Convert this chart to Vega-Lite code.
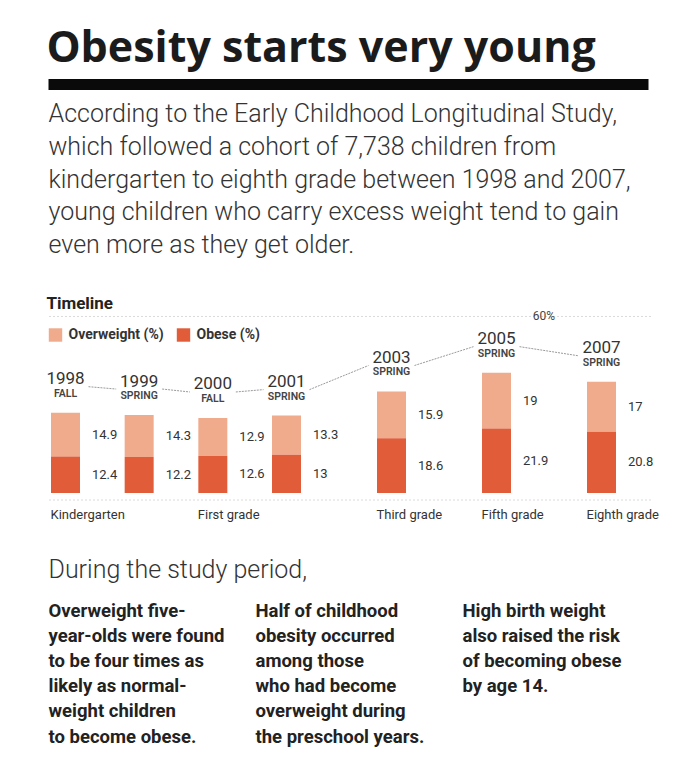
{
  "$schema": "https://vega.github.io/schema/vega-lite/v6.json",
  "background": "white",
  "padding": {"left": 45.5, "top": 28, "right": 10, "bottom": 10},
  "config": {"font": "Roboto", "view": {"stroke": null}},
  "title": {"text": "Obesity starts very young", "anchor": "start", "font": "Open Sans", "fontSize": 43, "fontWeight": "bold", "color": "#1b1b1b", "offset": 8},
  "spacing": 36,
  "resolve": {"scale": {"color": "independent"}, "legend": {"color": "independent"}},
  "vconcat": [
    {
      "width": 600,
      "height": 11,
      "data": {"values": [{"element": "rule"}]},
      "mark": {"type": "rect", "color": "#0a0a0a"},
      "encoding": {},
      "title": {
        "text": [
          "According to the Early Childhood Longitudinal Study,",
          "which followed a cohort of 7,738 children from",
          "kindergarten to eighth grade between 1998 and 2007,",
          "young children who carry excess weight tend to gain",
          "even more as they get older."
        ],
        "orient": "bottom", "anchor": "start", "font": "Roboto", "fontSize": 25, "fontWeight": 300, "color": "#333333", "lineHeight": 32.8, "offset": 12
      }
    },
    {
      "width": 602,
      "height": 178,
      "title": {"text": "Timeline", "anchor": "start", "font": "Roboto", "fontSize": 17, "fontWeight": "bold", "color": "#222222", "offset": -3},
      "data": {"values": [
        {"year": 1998, "season": "FALL", "grade": "Kindergarten", "category": "Overweight (%)", "value": 14.9},
        {"year": 1998, "season": "FALL", "grade": "Kindergarten", "category": "Obese (%)", "value": 12.4},
        {"year": 1999, "season": "SPRING", "grade": "Kindergarten", "category": "Overweight (%)", "value": 14.3},
        {"year": 1999, "season": "SPRING", "grade": "Kindergarten", "category": "Obese (%)", "value": 12.2},
        {"year": 2000, "season": "FALL", "grade": "First grade", "category": "Overweight (%)", "value": 12.9},
        {"year": 2000, "season": "FALL", "grade": "First grade", "category": "Obese (%)", "value": 12.6},
        {"year": 2001, "season": "SPRING", "grade": "First grade", "category": "Overweight (%)", "value": 13.3},
        {"year": 2001, "season": "SPRING", "grade": "First grade", "category": "Obese (%)", "value": 13},
        {"year": 2003, "season": "SPRING", "grade": "Third grade", "category": "Overweight (%)", "value": 15.9},
        {"year": 2003, "season": "SPRING", "grade": "Third grade", "category": "Obese (%)", "value": 18.6},
        {"year": 2005, "season": "SPRING", "grade": "Fifth grade", "category": "Overweight (%)", "value": 19},
        {"year": 2005, "season": "SPRING", "grade": "Fifth grade", "category": "Obese (%)", "value": 21.9},
        {"year": 2007, "season": "SPRING", "grade": "Eighth grade", "category": "Overweight (%)", "value": 17},
        {"year": 2007, "season": "SPRING", "grade": "Eighth grade", "category": "Obese (%)", "value": 20.8}
      ]},
      "transform": [
        {"stack": "value", "groupby": ["year"], "sort": [{"field": "category", "order": "ascending"}], "as": ["v0", "v1"]}
      ],
      "layer": [
        {
          "data": {"values": [{"pct": 60, "label": "60%"}]},
          "mark": {"type": "rule", "color": "#b5b5b5", "strokeDash": [1, 3], "strokeWidth": 1},
          "encoding": {
            "y": {"field": "pct", "type": "quantitative", "axis": null, "scale": {"domain": [0, 60.5], "nice": false, "zero": true, "padding": 0}}
          }
        },
        {
          "data": {"values": [{"pct": 60, "label": "60%"}]},
          "mark": {"type": "text", "align": "center", "baseline": "middle", "xOffset": -5, "fontSize": 12, "color": "#444444"},
          "encoding": {
            "x": {"datum": 2006, "type": "quantitative", "axis": null},
            "y": {"field": "pct", "type": "quantitative", "axis": null},
            "text": {"field": "label", "type": "nominal"}
          }
        },
        {
          "data": {"values": [{"pct": 0}]},
          "mark": {"type": "rule", "yOffset": 7, "color": "#b5b5b5", "strokeDash": [1, 3], "strokeWidth": 1},
          "encoding": {
            "y": {"field": "pct", "type": "quantitative", "axis": null}
          }
        },
        {
          "mark": {"type": "bar", "width": 29},
          "encoding": {
            "x": {"field": "year", "type": "quantitative", "axis": null, "scale": {"type": "linear", "domain": [1998, 2001, 2007], "range": [17, 238, 553], "zero": false, "nice": false, "padding": 0}},
            "y": {"field": "v0", "type": "quantitative", "axis": null},
            "y2": {"field": "v1"},
            "color": {"field": "category", "type": "nominal",
                      "scale": {"domain": ["Overweight (%)", "Obese (%)"], "range": ["#F0AA8C", "#E15D3A"]},
                      "legend": {"orient": "none", "legendX": 0, "legendY": 13, "direction": "horizontal", "title": null, "symbolType": "square", "symbolSize": 180, "symbolStrokeWidth": 0, "labelFont": "Roboto", "labelFontSize": 14, "labelFontWeight": "bold", "labelColor": "#333333", "labelOffset": 6, "columnPadding": 12}}
          }
        },
        {
          "transform": [
            {"fold": ["v0", "v1"], "as": ["edge", "pos"]},
            {"aggregate": [{"op": "mean", "field": "pos", "as": "mid"}], "groupby": ["year", "category", "value"]}
          ],
          "mark": {"type": "text", "align": "left", "baseline": "middle", "xOffset": 26.5, "fontSize": 13, "color": "#333333"},
          "encoding": {
            "x": {"field": "year", "type": "quantitative", "axis": null},
            "y": {"field": "mid", "type": "quantitative", "axis": null},
            "text": {"field": "value", "type": "quantitative"}
          }
        },
        {
          "transform": [{"filter": "datum.category == 'Overweight (%)'"}],
          "mark": {"type": "text", "align": "center", "baseline": "middle", "yOffset": -33.5, "fontSize": 17, "color": "#333333"},
          "encoding": {
            "x": {"field": "year", "type": "quantitative", "axis": null},
            "y": {"field": "v1", "type": "quantitative", "axis": null},
            "text": {"field": "year", "type": "nominal"}
          }
        },
        {
          "transform": [{"filter": "datum.category == 'Overweight (%)'"}],
          "mark": {"type": "text", "align": "center", "baseline": "middle", "yOffset": -19, "fontSize": 10.5, "fontWeight": 600, "color": "#444444"},
          "encoding": {
            "x": {"field": "year", "type": "quantitative", "axis": null},
            "y": {"field": "v1", "type": "quantitative", "axis": null},
            "text": {"field": "season", "type": "nominal"}
          }
        },
        {
          "transform": [
            {"filter": "datum.category == 'Overweight (%)'"},
            {"window": [{"op": "lead", "field": "year", "as": "next_year"}, {"op": "lead", "field": "v1", "as": "next_v1"}], "sort": [{"field": "year", "order": "ascending"}]},
            {"filter": "datum.next_year != null"}
          ],
          "mark": {"type": "rule", "xOffset": 23, "x2Offset": -23, "yOffset": -26, "y2Offset": -26, "color": "#9a9a9a", "strokeWidth": 1, "strokeDash": [2, 1]},
          "encoding": {
            "x": {"field": "year", "type": "quantitative", "axis": null},
            "x2": {"field": "next_year"},
            "y": {"field": "v1", "type": "quantitative", "axis": null},
            "y2": {"field": "next_v1"}
          }
        },
        {
          "transform": [
            {"filter": "datum.category == 'Overweight (%)'"},
            {"aggregate": [{"op": "min", "field": "year", "as": "first_year"}], "groupby": ["grade"]}
          ],
          "mark": {"type": "text", "align": "left", "baseline": "middle", "xOffset": -15, "yOffset": 22, "fontSize": 13, "color": "#333333"},
          "encoding": {
            "x": {"field": "first_year", "type": "quantitative", "axis": null},
            "y": {"datum": 0, "type": "quantitative", "axis": null},
            "text": {"field": "grade", "type": "nominal"}
          }
        }
      ]
    },
    {
      "width": 414,
      "height": 1,
      "title": {"text": "During the study period,", "anchor": "start", "font": "Roboto", "fontSize": 25, "fontWeight": 300, "color": "#333333", "offset": 18},
      "data": {"values": [
        {"col": 1, "text": "Overweight five-\nyear-olds were found\nto be four times as\nlikely as normal-\nweight children\nto become obese."},
        {"col": 2, "text": "Half of childhood\nobesity occurred\namong those\nwho had become\noverweight during\nthe preschool years."},
        {"col": 3, "text": "High birth weight\nalso raised the risk\nof becoming obese\nby age 14."}
      ]},
      "mark": {"type": "text", "align": "left", "baseline": "top", "lineBreak": "\n", "lineHeight": 25.2, "font": "Roboto", "fontSize": 18.5, "fontWeight": "bold", "color": "#222222"},
      "encoding": {
        "x": {"field": "col", "type": "ordinal", "scale": {"type": "point", "padding": 0}, "axis": null},
        "text": {"field": "text", "type": "nominal"}
      }
    }
  ]
}
